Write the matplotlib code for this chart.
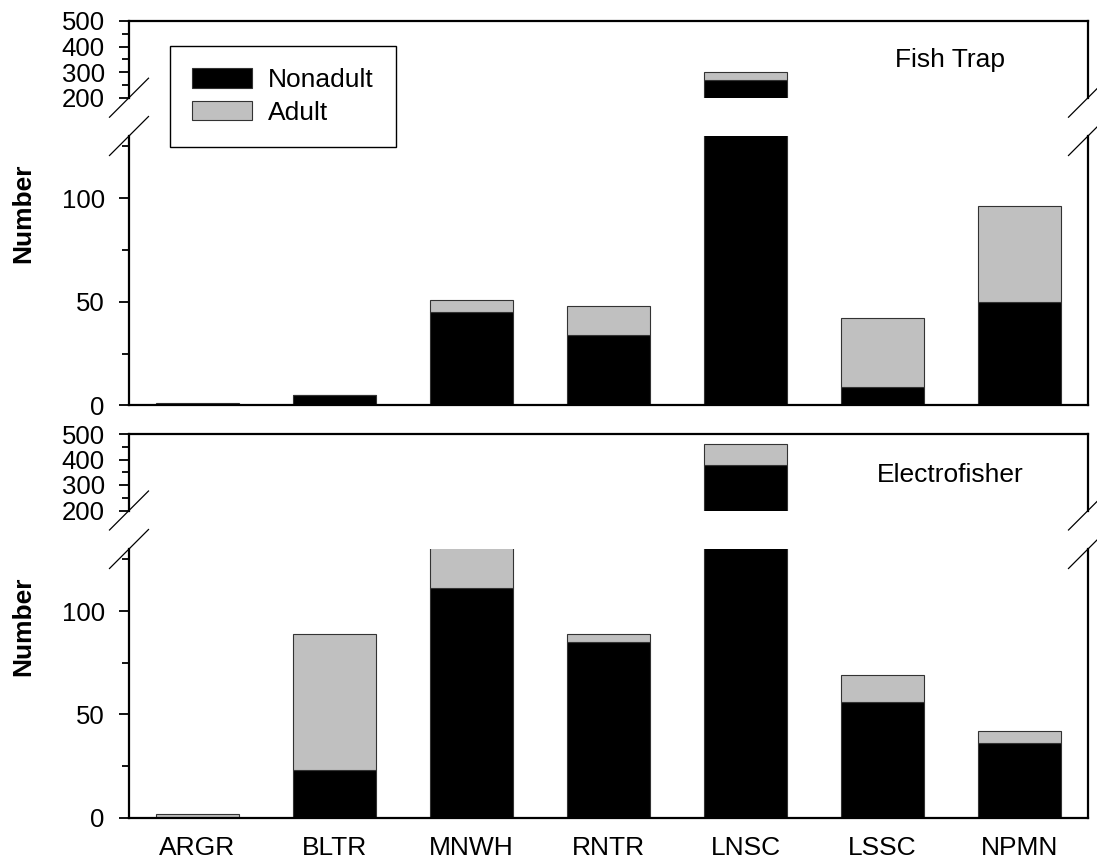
# %% import

import numpy as np
import matplotlib
matplotlib.use("Agg")
import matplotlib.pyplot as plt
from matplotlib.lines import Line2D
from matplotlib.patches import Patch

# %% data

species = ["ARGR", "BLTR", "MNWH", "RNTR", "LNSC", "LSSC", "NPMN"]

trap_nonadult = [0, 5, 45, 34, 270, 9, 50]
trap_adult = [1, 0, 6, 14, 30, 33, 46]

efish_nonadult = [0, 23, 111, 85, 380, 56, 36]
efish_adult = [2, 66, 39, 4, 80, 13, 6]

panel_names = ["Fish Trap", "Electrofisher"]

# %% setting

plt.rcParams["font.family"] = ["Liberation Sans", "DejaVu Sans"]

W, H = 1097, 858
fig = plt.figure(figsize=(W / 100, H / 100), dpi=100)

c_non = "black"
c_adu = "#c0c0c0"
edge = "#333333"
font_set = (18.5, 19)  # ticks, labels

low_lim = (0, 130)
high_lim = (200, 500)

# panel geometry in pixels (top of top segment, break top, break bottom, axis bottom)
panels_px = [(21, 97.7, 136, 405.5), (434, 510.5, 549, 817.7)]
x0_px, x1_px = 129, 1088


def fy(p):
    return 1 - p / H


def break_marks(y_frac):
    # slash through left and right spine at figure fraction y_frac
    d = 19.5
    for xs in (x0_px, x1_px):
        fig.add_artist(
            Line2D([(xs - d) / W, (xs + d) / W], [y_frac - d / H, y_frac + d / H], color="black", lw=0.9)
        )


def draw_panel(idx, nonadult, adult):
    top, brk_hi, brk_lo, bot = panels_px[idx]
    ax_hi = fig.add_axes([x0_px / W, fy(brk_hi), (x1_px - x0_px) / W, (brk_hi - top) / H])
    ax_lo = fig.add_axes([x0_px / W, fy(bot), (x1_px - x0_px) / W, (bot - brk_lo) / H])

    x = np.arange(len(species))
    for ax in (ax_hi, ax_lo):
        ax.bar(x, nonadult, width=0.61, color=c_non, edgecolor=edge, linewidth=0.8)
        ax.bar(x, adult, bottom=nonadult, width=0.61, color=c_adu, edgecolor=edge, linewidth=0.8)
        ax.set_xlim(-0.5, len(species) - 0.5)
        for s in ax.spines.values():
            s.set_linewidth(1.6)
        ax.tick_params(axis="y", which="major", length=7.5, width=1.3, labelsize=font_set[0], pad=10, direction="out")
        ax.tick_params(axis="y", which="minor", length=4.8, width=1.3, direction="out")
        ax.tick_params(axis="x", length=0)

    ax_hi.set_ylim(*high_lim)
    ax_hi.set_yticks([200, 300, 400, 500])
    ax_hi.set_yticks([250, 350, 450], minor=True)
    ax_hi.spines["bottom"].set_visible(False)
    ax_hi.set_xticks([])

    ax_lo.set_ylim(*low_lim)
    ax_lo.set_yticks([0, 50, 100])
    ax_lo.set_yticks([25, 75, 125], minor=True)
    ax_lo.spines["top"].set_visible(False)
    ax_lo.set_xticks(x)
    if idx == 1:
        ax_lo.set_xticklabels(species, fontsize=font_set[1])
        ax_lo.tick_params(axis="x", pad=13)
    else:
        ax_lo.set_xticklabels([])

    # break marks
    break_marks(fy(brk_hi))
    break_marks(fy(brk_lo))

    fig.text(23 / W, fy((top + bot) / 2), "Number", rotation=90, ha="center", va="center",
             fontsize=font_set[1], fontweight="bold")
    return ax_hi, ax_lo


draw_panel(0, trap_nonadult, trap_adult)
draw_panel(1, efish_nonadult, efish_adult)

fig.text(895 / W, fy(60), panel_names[0], ha="left", va="center", fontsize=font_set[1])
fig.text(877 / W, fy(475), panel_names[1], ha="left", va="center", fontsize=font_set[1])

handles = [
    Patch(facecolor=c_non, edgecolor=edge, linewidth=0.8, label="Nonadult"),
    Patch(facecolor=c_adu, edgecolor=edge, linewidth=0.8, label="Adult"),
]
leg = fig.legend(
    handles=handles,
    loc="upper left",
    bbox_to_anchor=(170 / W, fy(45.7)),
    fontsize=font_set[1],
    frameon=True,
    fancybox=False,
    handlelength=2.27,
    handleheight=0.76,
    handletextpad=0.6,
    labelspacing=0.32,
    borderpad=0.85,
    borderaxespad=0,
)
leg.get_frame().set_edgecolor("black")
leg.get_frame().set_linewidth(1.0)
leg.get_frame().set_alpha(1)

fig.savefig("out.png", dpi=100)
